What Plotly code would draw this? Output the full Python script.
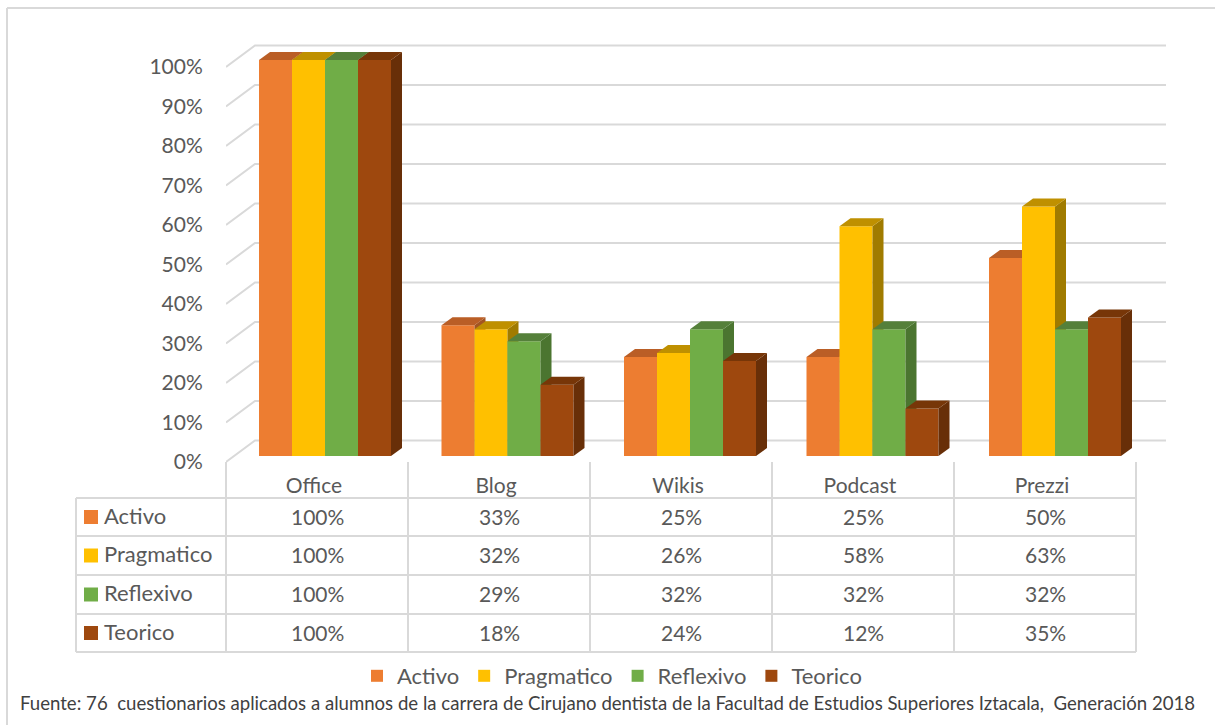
import plotly.graph_objects as go

categories = ["Office", "Blog", "Wikis", "Podcast", "Prezzi"]
series_names = ["Activo", "Pragmatico", "Reflexivo", "Teorico"]
activo = [100, 33, 25, 25, 50]
pragmatico = [100, 32, 26, 58, 63]
reflexivo = [100, 29, 32, 32, 32]
teorico = [100, 18, 24, 12, 35]
tick_values = [0, 10, 20, 30, 40, 50, 60, 70, 80, 90, 100]
footer = "Fuente: 76  cuestionarios aplicados a alumnos de la carrera de Cirujano dentista de la Facultad de Estudios Superiores Iztacala,  Generación 2018"

values = [activo, pragmatico, reflexivo, teorico]
front = ["#ED7D31", "#FFC000", "#70AD47", "#9E480E"]
topc = ["#BA5E26", "#BF9000", "#55803A", "#773608"]
sidec = ["#A35522", "#A07B00", "#4B7530", "#682F08"]

W, H = 1215, 725
FONT = "Lato, Carlito, sans-serif"
TXT = "#595959"
GRID = "#D9D9D9"

# pixel geometry of the frame
X0 = 226                 # left edge of plot domain
PX_UNIT = 182.5          # pixels per category
BAR_PX = 33.0
BAR_ORIGIN = 325.0       # centre of first bar group
BAR_BASE, BAR_SCALE = 456.0, 3.96
DEPTH_X, DEPTH_Y = 11.0, 8.0
LAB_ORIGIN, LAB_UNIT = 314.0, 182.0
FLOOR_BASE, FLOOR_SCALE = 462.0, 3.95


def xrange_for(origin, unit):
    return [(X0 - origin) / unit, (W - origin) / unit]


def yrange_for(base, scale):
    return [(base - H) / scale, base / scale]


fig = go.Figure()

# back-wall gridlines (base subplot, floor-front scale)
gx, gy = [], []
lx0 = (X0 - LAB_ORIGIN) / LAB_UNIT
for v in tick_values:
    gx += [lx0, lx0 + 29 / LAB_UNIT, lx0 + (1166 - X0) / LAB_UNIT, None]
    gy += [v, v + 21.5 / FLOOR_SCALE, v + 21.5 / FLOOR_SCALE, None]
fig.add_trace(go.Scatter(x=gx, y=gy, mode="lines", line=dict(color=GRID, width=2),
                         showlegend=False, hoverinfo="skip", xaxis="x", yaxis="y"))

w = BAR_PX / PX_UNIT
dx = DEPTH_X / PX_UNIT
dy = DEPTH_Y / BAR_SCALE
for k, name in enumerate(series_names):
    ax = str(k + 2)
    xa, ya = "x" + ax, "y" + ax
    fig.add_trace(go.Bar(x=list(range(len(categories))), y=values[k], name=name,
                         width=w, offset=-2 * w + k * w,
                         marker=dict(color=front[k], line=dict(width=0)),
                         xaxis=xa, yaxis=ya))
    sx, sy, tx, ty = [], [], [], []
    for i, v in enumerate(values[k]):
        xl = i - 2 * w + k * w
        xr = xl + w
        sx += [xr, xr + dx, xr + dx, xr, xr, None]
        sy += [0, dy, v + dy, v, 0, None]
        tx += [xl, xl + dx, xr + dx, xr, xl, None]
        ty += [v, v + dy, v + dy, v, v, None]
    for px, py, col in ((sx, sy, sidec[k]), (tx, ty, topc[k])):
        fig.add_trace(go.Scatter(x=px, y=py, mode="lines", fill="toself", fillcolor=col,
                                 line=dict(width=0, color=col), showlegend=False,
                                 hoverinfo="skip", xaxis=xa, yaxis=ya))

layout = dict(
    width=W, height=H, margin=dict(l=0, r=0, t=0, b=0),
    paper_bgcolor="white", plot_bgcolor="rgba(0,0,0,0)",
    font=dict(family=FONT, color=TXT, size=20),
    showlegend=True,
    legend=dict(orientation="h", x=612 / W, xanchor="center", y=1 - 676 / H, yanchor="middle",
                font=dict(size=22, color=TXT), bgcolor="rgba(0,0,0,0)", traceorder="normal"),
    xaxis=dict(domain=[X0 / W, 1], range=xrange_for(LAB_ORIGIN, LAB_UNIT), anchor="free",
               position=1 - FLOOR_BASE / H, showgrid=False, zeroline=False, showline=False,
               tickmode="array", tickvals=list(range(len(categories))), ticktext=categories,
               ticks="outside", ticklen=5, tickcolor="rgba(0,0,0,0)",
               tickfont=dict(size=21, color=TXT, family=FONT)),
    yaxis=dict(domain=[0, 1], range=yrange_for(FLOOR_BASE, FLOOR_SCALE), showgrid=False,
               zeroline=False, showline=False, tickmode="array", tickvals=tick_values,
               ticktext=[f"{t}%" for t in tick_values], ticks="outside", ticklen=18,
               tickcolor="rgba(0,0,0,0)", tickfont=dict(size=21, color=TXT, family=FONT)),
)
for k in range(len(series_names)):
    ax = str(k + 2)
    layout["xaxis" + ax] = dict(domain=[X0 / W, 1], range=xrange_for(BAR_ORIGIN, PX_UNIT),
                                overlaying="x", anchor="y" + ax, visible=False)
    layout["yaxis" + ax] = dict(domain=[0, 1], range=yrange_for(BAR_BASE, BAR_SCALE),
                                overlaying="y", anchor="x" + ax, visible=False)
fig.update_layout(**layout)


def pxx(p):
    return p / W


def pxy(p):
    return 1 - p / H


def line(x0, y0, x1, y1, width=2):
    fig.add_shape(type="line", xref="paper", yref="paper", x0=pxx(x0), y0=pxy(y0), x1=pxx(x1), y1=pxy(y1),
                  line=dict(color=GRID, width=width), layer="below")


# outer frame
line(7, 8, 1215, 8)
line(7, 8, 7, 725)

# data table
col_edges = [226 + 182 * i for i in range(6)]
row_edges = [498, 536, 575, 614, 652]
for c in col_edges:
    line(c, 462, c, 652)
line(76, 498, 76, 652)
for r in row_edges:
    line(76, r, col_edges[-1], r)
for k, name in enumerate(series_names):
    yc = (row_edges[k] + row_edges[k + 1]) / 2
    fig.add_shape(type="rect", xref="paper", yref="paper", x0=pxx(84), x1=pxx(98),
                  y0=pxy(yc - 7), y1=pxy(yc + 7), fillcolor=front[k], line=dict(width=0))
    fig.add_annotation(xref="paper", yref="paper", x=pxx(102), y=pxy(yc - 2), text=name, showarrow=False,
                       xanchor="left", yanchor="middle", font=dict(size=22, color=TXT, family=FONT))
    for i, v in enumerate(values[k]):
        fig.add_annotation(xref="paper", yref="paper", x=pxx(col_edges[i] + 91), y=pxy(yc - 1), text=f"{v}%",
                           showarrow=False, xanchor="center", yanchor="middle",
                           font=dict(size=21, color=TXT, family=FONT))

fig.add_annotation(xref="paper", yref="paper", x=pxx(18), y=pxy(703), text=footer, showarrow=False,
                   xanchor="left", yanchor="middle", font=dict(size=18.6, color="#404040", family=FONT))

fig.write_html("out.html", config={"displayModeBar": False},
               post_script="document.body.style.margin='0';document.body.style.overflow='hidden';")
